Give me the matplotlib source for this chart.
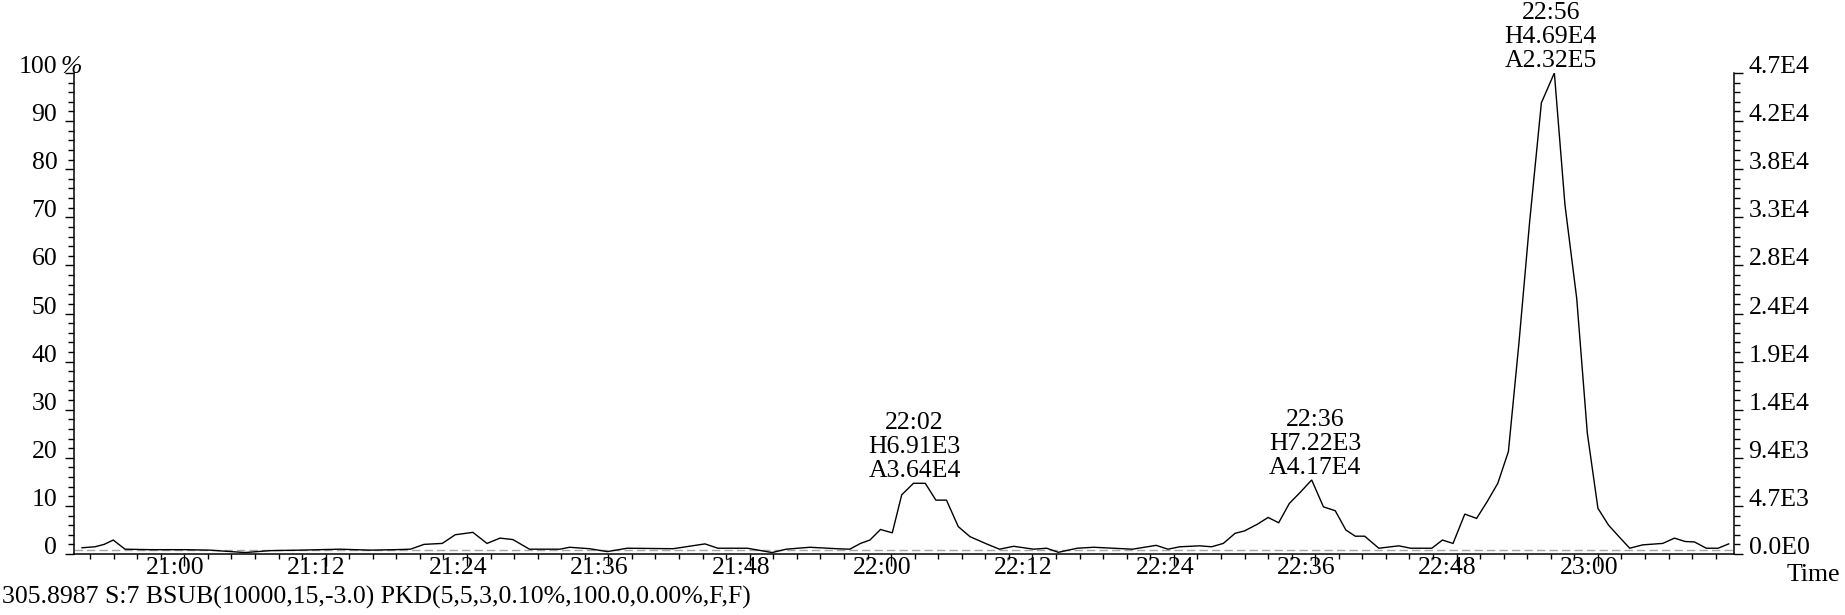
import matplotlib
matplotlib.use("Agg")
import matplotlib.pyplot as plt
import matplotlib.transforms as mtransforms
from matplotlib.ticker import FixedLocator, MultipleLocator

# ---------------- data ----------------
# retention time in minutes after 21:00
times = [-8.68, -7.58, -6.8, -6.03, -5.03, -2.9, 0.06, 2.18, 5.15, 7.3, 9.8,
         13.2, 15.8, 17.9, 19.2, 20.35, 21.9, 23.0, 24.5, 25.7, 26.8, 27.9,
         29.3, 31.9, 32.7, 34.4, 35.9, 37.6, 41.5, 44.2, 45.3, 47.8, 49.9,
         51.1, 53.1, 55.4, 56.5, 57.4, 58.2, 59.1, 60.1, 60.9, 61.9, 62.9,
         63.8, 64.7, 65.7, 66.7, 68.1, 69.2, 70.4, 72.1, 73.2, 74.2, 75.8,
         77.2, 80.5, 82.5, 83.5, 84.5, 86.2, 87.2, 88.2, 89.2, 90.0, 91.1,
         92.0, 92.9, 93.8, 94.8, 95.7, 96.7, 97.7, 98.6, 99.4, 100.2, 101.4,
         103.1, 104.1, 105.9, 106.8, 107.7, 108.7, 109.7, 110.6, 111.5, 112.4,
         113.3, 114.2, 115.2, 116.3, 117.2, 118.2, 119.1, 120.0, 120.9, 121.9,
         122.7, 123.8, 125.5, 126.5, 127.4, 128.2, 129.2, 130.2, 131.1]
# relative intensity in percent
intensity_pct = [1.3, 1.5, 2.0, 2.9, 1.0, 0.9, 0.9, 0.8, 0.3, 0.7, 0.8,
                 1.0, 0.8, 0.9, 1.0, 2.0, 2.2, 4.0, 4.5, 2.2, 3.3, 3.0,
                 1.0, 1.0, 1.4, 1.1, 0.5, 1.2, 1.1, 2.1, 1.2, 1.2, 0.3,
                 1.0, 1.4, 1.1, 1.0, 2.2, 2.9, 5.1, 4.4, 12.3, 14.7, 14.7,
                 11.2, 11.2, 5.7, 3.6, 2.1, 1.0, 1.6, 1.0, 1.2, 0.35, 1.2,
                 1.4, 1.0, 1.8, 1.0, 1.5, 1.7, 1.5, 2.2, 4.3, 4.8, 6.2,
                 7.6, 6.5, 10.5, 13.0, 15.4, 9.8, 9.0, 5.0, 3.7, 3.7, 1.2,
                 1.7, 1.2, 1.2, 2.9, 2.2, 8.3, 7.4, 10.9, 14.7, 21.3,
                 44.0, 69.0, 93.8, 100.0, 72.6, 53.1, 25.1, 9.5, 6.0, 3.3,
                 1.2, 1.9, 2.2, 3.3, 2.6, 2.5, 1.2, 1.2, 2.1]

x_tick_minutes = [0, 12, 24, 36, 48, 60, 72, 84, 96, 108, 120]
x_tick_labels = ["21:00", "21:12", "21:24", "21:36", "21:48", "22:00",
                 "22:12", "22:24", "22:36", "22:48", "23:00"]
left_tick_values = [0, 10, 20, 30, 40, 50, 60, 70, 80, 90, 100]
left_tick_labels = ["0", "10", "20", "30", "40", "50", "60", "70", "80", "90", "100"]
right_tick_labels = ["0.0E0", "4.7E3", "9.4E3", "1.4E4", "1.9E4", "2.4E4",
                     "2.8E4", "3.3E4", "3.8E4", "4.2E4", "4.7E4"]

peak_times = [62, 96, 116]
peak_time_labels = ["22:02", "22:36", "22:56"]
peak_heights = [6.91e3, 7.22e3, 4.69e4]
peak_height_labels = ["H6.91E3", "H7.22E3", "H4.69E4"]
peak_area_labels = ["A3.64E4", "A4.17E4", "A2.32E5"]
full_scale = 4.69e4
baseline_pct = 0.8

caption = "305.8987 S:7 BSUB(10000,15,-3.0) PKD(5,5,3,0.10%,100.0,0.00%,F,F)"
x_axis_label = "Time"

# ---------------- style ----------------
plt.rcParams['font.family'] = ['Liberation Serif', 'DejaVu Serif']
FS = 18.5
W, H = 1845, 615
fig = plt.figure(figsize=(W / 100, H / 100), dpi=100)
fig.patch.set_facecolor('white')

ax_left, ax_right_px, ax_bottom_px, ax_top_px = 74, 1734, 554, 73
ax = fig.add_axes([ax_left / W, (H - ax_bottom_px) / H,
                   (ax_right_px - ax_left) / W, (ax_bottom_px - ax_top_px) / H])
ax.set_facecolor('none')

ax.plot(times, intensity_pct, color='black', lw=1.0, solid_joinstyle='miter')
ax.axhline(baseline_pct, color='0.65', lw=1.0, ls=(0, (6, 3)), zorder=1)

ax.set_xlim(-9.36, 131.55)
ax.set_ylim(0, 100)

for s in ['top', 'right']:
    ax.spines[s].set_visible(False)
for s in ['left', 'bottom']:
    ax.spines[s].set_linewidth(1.1)

# x ticks
ax.xaxis.set_major_locator(FixedLocator(x_tick_minutes))
ax.xaxis.set_minor_locator(MultipleLocator(2))
ax.set_xticklabels(x_tick_labels, fontsize=FS)
ax.tick_params(axis='x', which='major', direction='out', length=8.6, width=1.0, pad=5.8)
ax.tick_params(axis='x', which='minor', direction='out', length=3.6, width=1.0)
shift = mtransforms.ScaledTranslation(-9 / 100, 0, fig.dpi_scale_trans)
for lab in ax.get_xticklabels():
    lab.set_va('baseline')
    lab.set_transform(lab.get_transform() + shift)

# left y ticks
ax.yaxis.set_major_locator(FixedLocator(left_tick_values))
ax.yaxis.set_minor_locator(MultipleLocator(2))
ax.set_yticklabels(left_tick_labels, fontsize=FS)
ax.tick_params(axis='y', which='major', direction='out', length=6.5, width=1.0, pad=5.5)
ax.tick_params(axis='y', which='minor', direction='out', length=4.0, width=1.0)
for lab in ax.get_yticklabels():
    lab.set_va('baseline')

# percent sign next to 100
ax.text(61 / W, 100, "%", transform=mtransforms.blended_transform_factory(fig.transFigure, ax.transData),
        ha='left', va='baseline', fontsize=FS, fontstyle='italic')

# right y axis
axr = ax.twinx()
axr.set_ylim(0, 100)
for s in ['top', 'left', 'bottom']:
    axr.spines[s].set_visible(False)
axr.spines['right'].set_linewidth(1.1)
axr.yaxis.set_major_locator(FixedLocator(left_tick_values))
axr.yaxis.set_minor_locator(MultipleLocator(2))
axr.set_yticklabels(right_tick_labels, fontsize=FS)
axr.tick_params(axis='y', which='major', direction='out', length=6.5, width=1.0, pad=4.0)
axr.tick_params(axis='y', which='minor', direction='out', length=4.0, width=1.0)
for lab in axr.get_yticklabels():
    lab.set_va('baseline')

# peak annotations
for t, tl, h, hl, al in zip(peak_times, peak_time_labels, peak_heights,
                            peak_height_labels, peak_area_labels):
    ax.annotate(f"{tl}\n{hl}\n{al}", xy=(t, h / full_scale * 100),
                xytext=(0, 0.5), textcoords='offset points',
                ha='center', va='bottom', fontsize=FS, linespacing=1.12,
                annotation_clip=False)

fig.text(1840 / W, (H - 581) / H, x_axis_label, ha='right', va='baseline', fontsize=FS)
fig.text(2 / W, (H - 604) / H, caption, ha='left', va='baseline', fontsize=FS)

fig.savefig("out.png", dpi=100, facecolor='white')
